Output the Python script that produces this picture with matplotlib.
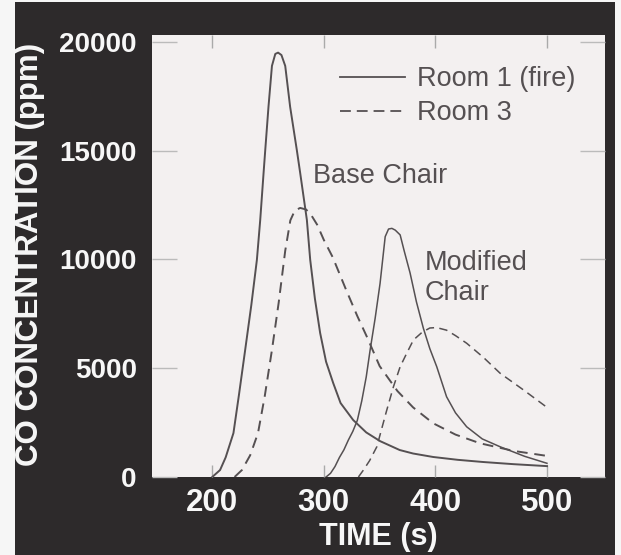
import matplotlib
matplotlib.use("Agg")
import matplotlib.pyplot as plt
from matplotlib.patches import Rectangle
from matplotlib.lines import Line2D

plt.rcParams['font.family'] = ['Liberation Sans', 'DejaVu Sans']

# Room 1 (fire), base chair
base_room1_t = [200, 207, 212, 219, 224, 229.5, 235, 240, 243, 246, 247.5, 250.4, 253.5, 256.5,
                259, 262, 265.4, 269.8, 275.8, 278.8, 284.8, 287.8, 292, 296.7, 302, 308.4,
                315, 326.3, 338, 350.4, 368, 380, 398, 420, 442.6, 470, 500]
base_room1_v = [0, 320, 900, 2020, 3800, 5840, 7900, 9980, 11820, 13980, 15030, 17020, 18900,
                19450, 19510, 19400, 18900, 17020, 15030, 13980, 11820, 9980, 8200, 6620, 5300,
                4320, 3400, 2620, 2050, 1650, 1240, 1080, 920, 790, 690, 590, 500]

# Room 3, base chair
base_room3_t = [220, 226.6, 234, 241, 247, 253.5, 259.5, 265.4, 270, 274, 278.8, 284, 288, 294,
                300, 308, 320, 330, 339, 350, 366, 380, 398, 418, 440, 470, 500]
base_room3_v = [0, 320, 1000, 2020, 3700, 5840, 8000, 10400, 11800, 12250, 12370, 12300, 12100,
                11600, 10900, 10100, 8600, 7400, 6400, 5100, 3950, 3200, 2470, 1950, 1550,
                1200, 970]

# Room 1 (fire), modified chair
mod_room1_t = [302, 306, 310, 314, 318, 322, 326, 330, 334, 338, 341.5, 346, 350.4, 355, 358,
               361, 364, 368.4, 372, 377.3, 383, 389.2, 395, 401.2, 410, 418, 428, 442, 458,
               480, 500]
mod_room1_v = [0, 170, 480, 900, 1250, 1700, 2100, 2600, 3500, 4600, 5840, 7300, 8900, 11050,
               11400, 11430, 11350, 11130, 10400, 9380, 8050, 6840, 5900, 5070, 3690, 2950,
               2310, 1750, 1390, 950, 630]

# Room 3, modified chair
mod_room3_t = [331, 335.5, 341, 347.5, 356, 362.4, 368.4, 374.3, 380.3, 388, 395, 401, 410,
               418, 428, 443, 458, 479, 500]
mod_room3_v = [0, 320, 750, 1390, 3000, 4150, 5070, 5690, 6300, 6650, 6850, 6870, 6750, 6500,
               6150, 5500, 4770, 4000, 3200]

x_ticks = [200, 300, 400, 500]
y_ticks = [0, 5000, 10000, 15000, 20000]

dark = '#2d2a2b'
panel = '#f3f0f0'
ink = '#555052'

fig = plt.figure(figsize=(6.21, 5.55), dpi=100, facecolor='#f6f6f6')
fig.patches.append(Rectangle((15 / 621, 0), 600 / 621, 553 / 555, transform=fig.transFigure,
                             facecolor=dark, edgecolor='none', zorder=-5))

ax = fig.add_axes([152 / 621, 1 - 477 / 555, 453 / 621, 442 / 555])
ax.set_zorder(2)
ax.set_facecolor(panel)
for s in ax.spines.values():
    s.set_visible(False)

dash = (5.5, 3.5)
ax.plot(base_room1_t, base_room1_v, color=ink, lw=1.4)
ax.plot(base_room3_t, base_room3_v, color=ink, lw=1.4, dashes=dash)
ax.plot(mod_room1_t, mod_room1_v, color=ink, lw=1.1)
ax.plot(mod_room3_t, mod_room3_v, color=ink, lw=1.1, dashes=dash)

ax.set_xlim(146, 552)
ax.set_ylim(0, 20320)
ax.set_xticks(x_ticks)
ax.set_yticks(y_ticks)

ax.tick_params(axis='x', direction='in', length=9, width=1, color='#aaaaaa',
               top=True, bottom=True, pad=8, labelsize=22.5, labelcolor='#f7f7f7')
ax.tick_params(axis='y', direction='in', length=18, width=1, color='#bbbbbb',
               left=True, right=True, pad=11, labelsize=20, labelcolor='#f7f7f7')
for lab in ax.get_xticklabels() + ax.get_yticklabels():
    lab.set_fontweight('bold')

ax.set_xlabel('TIME (s)', fontsize=22, fontweight='bold', color='#f7f7f7', labelpad=3)
fig.text(30 / 621, 1 - 254 / 555, 'CO CONCENTRATION (ppm)', rotation=90, fontsize=22.5,
         fontweight='bold', color='#f7f7f7', ha='center', va='center', zorder=3)

ax.text(290.4, 13840, 'Base Chair', fontsize=19.5, color=ink, ha='left', va='center')
ax.text(390.7, 9840, 'Modified', fontsize=19.5, color=ink, ha='left', va='center')
ax.text(390.7, 8460, 'Chair', fontsize=19.5, color=ink, ha='left', va='center')

handles = [Line2D([], [], color=ink, lw=1.3),
           Line2D([], [], color=ink, lw=1.3, dashes=(6, 3.3))]
ax.legend(handles, ['Room 1 (fire)', 'Room 3'], loc='upper right', frameon=False,
          fontsize=19.5, labelcolor=ink, handlelength=2.4, handletextpad=0.42,
          labelspacing=0.3, borderpad=0, borderaxespad=0,
          bbox_to_anchor=(423 / 453, 411 / 442))

fig.savefig('out.png', dpi=100, facecolor=fig.get_facecolor())
